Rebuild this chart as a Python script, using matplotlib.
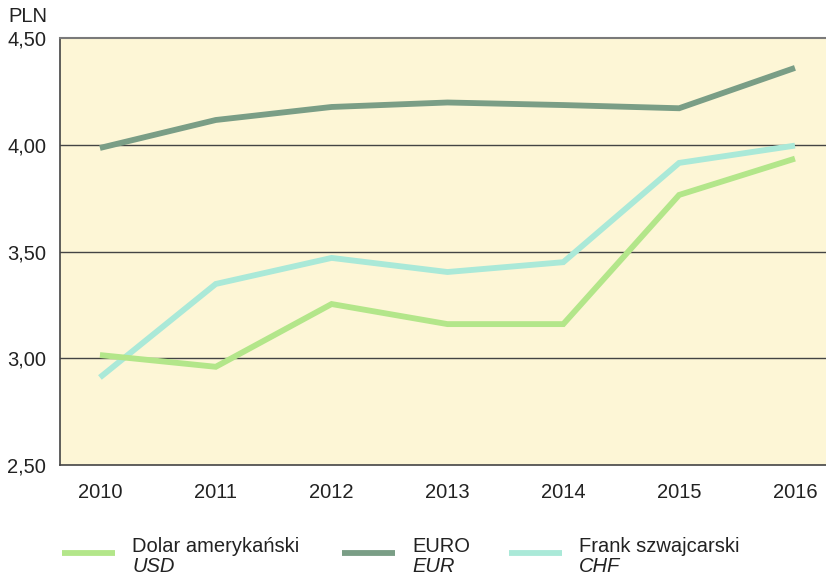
import matplotlib
matplotlib.use("Agg")
import matplotlib.pyplot as plt
from matplotlib.lines import Line2D

plt.rcParams['font.family'] = ['Liberation Sans', 'DejaVu Sans']

years = [2010, 2011, 2012, 2013, 2014, 2015, 2016]
usd = [3.015, 2.96, 3.254, 3.16, 3.16, 3.765, 3.935]
eur = [3.985, 4.116, 4.177, 4.198, 4.186, 4.171, 4.36]
chf = [2.91, 3.348, 3.47, 3.404, 3.45, 3.915, 3.996]
y_ticks = [2.5, 3.0, 3.5, 4.0, 4.5]
y_tick_labels = ["2,50", "3,00", "3,50", "4,00", "4,50"]

c_usd = "#b3e68a"
c_eur = "#7a9e86"
c_chf = "#aae9d8"

fs = 14.5

fig = plt.figure(figsize=(8.26, 5.76), dpi=100)
ax = fig.add_axes([0.0726, 0.1927, 0.9274, 0.7413])
ax.set_facecolor("#fdf6d6")

lw = 4.2
ax.plot(years, eur, color=c_eur, lw=lw, solid_capstyle="butt", solid_joinstyle="miter", zorder=3)
ax.plot(years, chf, color=c_chf, lw=lw, solid_capstyle="butt", solid_joinstyle="miter", zorder=3)
ax.plot(years, usd, color=c_usd, lw=lw, solid_capstyle="butt", solid_joinstyle="miter", zorder=3)

ax.set_xlim(2009.655, 2016.268)
ax.set_ylim(2.5, 4.5)
ax.set_yticks(y_ticks)
ax.set_yticklabels(y_tick_labels)
ax.set_xticks(years)
ax.set_xticklabels([str(y) for y in years])
ax.tick_params(length=0, labelsize=fs, colors="#222222")
ax.tick_params(axis="x", pad=13)
ax.tick_params(axis="y", pad=10)

for v in [3.0, 3.5, 4.0]:
    ax.axhline(v, color="#444444", lw=1.0, zorder=1)

ax.spines["right"].set_visible(False)
ax.spines["top"].set_color("#7a7a7a")
ax.spines["top"].set_linewidth(1.5)
ax.spines["left"].set_color("#444444")
ax.spines["bottom"].set_color("#444444")
ax.spines["left"].set_linewidth(1.2)
ax.spines["bottom"].set_linewidth(1.2)

fig.text(8 / 826, 1 - 17 / 576, "PLN", fontsize=fs, color="#222222", va="center", ha="left")

# legend drawn in figure coordinates
legend_items = [
    (62, c_usd, "Dolar amerykański", "USD"),
    (342, c_eur, "EURO", "EUR"),
    (509, c_chf, "Frank szwajcarski", "CHF"),
]
W, H = 826, 576
for x0, col, name, code in legend_items:
    fig.add_artist(Line2D([x0 / W, (x0 + 53) / W], [1 - 553 / H, 1 - 553 / H],
                          color=col, lw=4.2, solid_capstyle="butt"))
    fig.text((x0 + 70) / W, 1 - 547 / H, name, fontsize=fs, color="#222222", va="center", ha="left")
    fig.text((x0 + 70) / W, 1 - 566 / H, code, fontsize=fs, color="#222222", va="center", ha="left",
             style="italic")

fig.savefig("out.png", dpi=100)
